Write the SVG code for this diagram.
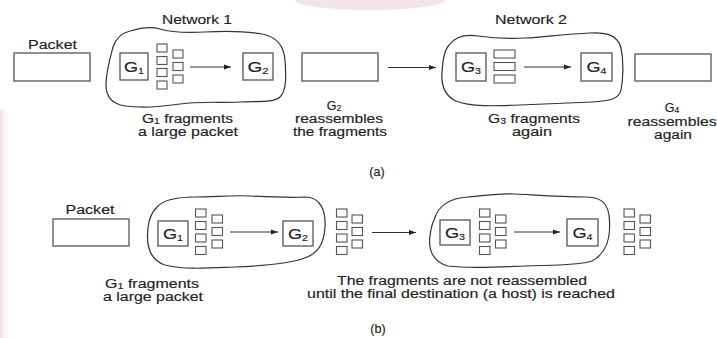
<svg xmlns="http://www.w3.org/2000/svg" width="717" height="338" viewBox="0 0 717 338">
<defs>
<style>
.t{font-family:"Liberation Sans",Arial,sans-serif;font-size:12.5px;fill:#222;text-anchor:middle;stroke:#222;stroke-width:0.15}
.g{font-family:"Liberation Sans",Arial,sans-serif;font-size:14.5px;fill:#222;text-anchor:middle;stroke:#222;stroke-width:0.15}
.sub{font-size:8.5px}
.box{fill:#fff;stroke:#555;stroke-width:1.3}
.sq{fill:#fff;stroke:#555;stroke-width:1.1}
.cloud{fill:none;stroke:#333;stroke-width:1.2}
.arr{stroke:#333;stroke-width:1;fill:none;marker-end:url(#ah)}
</style>
<marker id="ah" markerWidth="8" markerHeight="6" refX="7" refY="3" orient="auto" markerUnits="userSpaceOnUse">
<path d="M0,0.5 L7,3 L0,5.5 Z" fill="#222"/>
</marker>
<linearGradient id="pk" x1="0" y1="0" x2="1" y2="0">
<stop offset="0" stop-color="#f1dfe6"/>
<stop offset="1" stop-color="#fff" stop-opacity="0"/>
</linearGradient>
</defs>
<rect width="717" height="338" fill="#fff"/>
<ellipse cx="370" cy="0" rx="75" ry="10" fill="#f3e3ea"/>
<rect x="0" y="110" width="12" height="228" fill="url(#pk)"/>

<!-- ===== (a) ===== -->
<g id="a-packet-in">
<text class="t" x="52.5" y="49" textLength="49" lengthAdjust="spacingAndGlyphs">Packet</text>
<rect class="box" x="14" y="53" width="76" height="28"/>
</g>
<g id="a-network1">
<text class="t" x="197" y="24" textLength="70" lengthAdjust="spacingAndGlyphs">Network 1</text>
<path class="cloud" d="M113,47 C116,38 122,33 130,31 C140,28 150,26 160,29 C170,32 185,33 205,32 C225,31 245,31 262,34 C278,37 284,47 285,60 C286,75 287,90 280,97 C273,103 258,101 240,102 C220,103 200,101 180,104 C160,107 140,108 125,106 C112,104 106,96 106,85 C106,72 110,58 113,47 Z"/>
<text class="t" x="187.5" y="122.5" textLength="91" lengthAdjust="spacingAndGlyphs">G<tspan class="sub" dy="1.5">1</tspan><tspan dy="-1.5"> fragments</tspan></text>
<text class="t" x="188" y="136" textLength="100" lengthAdjust="spacingAndGlyphs">a large packet</text>
</g>
<g id="a-G1">
<rect class="box" x="120" y="53" width="28" height="27"/>
<text class="g" x="134" y="72" textLength="20" lengthAdjust="spacingAndGlyphs">G<tspan class="sub" dy="1.5">1</tspan></text>
</g>
<g id="a-frag1">
<rect class="sq" x="157" y="44" width="10" height="8"/>
<rect class="sq" x="157" y="56.5" width="10" height="8"/>
<rect class="sq" x="157" y="68.5" width="10" height="8"/>
<rect class="sq" x="157" y="81" width="10" height="8"/>
<rect class="sq" x="173" y="50" width="10" height="8"/>
<rect class="sq" x="173" y="62.5" width="10" height="8"/>
<rect class="sq" x="173" y="75" width="10" height="8"/>
</g>
<g id="a-G2">
<rect class="box" x="243" y="53" width="30" height="27"/>
<text class="g" x="258" y="72" textLength="21" lengthAdjust="spacingAndGlyphs">G<tspan class="sub" dy="1.5">2</tspan></text>
</g>
<g id="a-packet-mid">
<rect class="box" x="302" y="53" width="76" height="28"/>
<text class="t" x="334" y="109.5">G<tspan class="sub" dy="1.5">2</tspan></text>
<text class="t" x="339" y="123" textLength="88" lengthAdjust="spacingAndGlyphs">reassembles</text>
<text class="t" x="340" y="136" textLength="94" lengthAdjust="spacingAndGlyphs">the fragments</text>
</g>
<g id="a-network2">
<text class="t" x="531" y="24" textLength="72" lengthAdjust="spacingAndGlyphs">Network 2</text>
<path class="cloud" d="M449,45 C455,37 465,34 478,36 C492,38 505,39 525,38 C545,37 565,34 590,33 C608,32 618,36 621,48 C624,62 623,80 621,90 C619,99 610,101 592,102 C570,103 545,104 520,105 C495,106 470,107 456,101 C445,96 441,86 442,72 C443,60 444,51 449,45 Z"/>
<text class="t" x="534" y="122.5" textLength="92" lengthAdjust="spacingAndGlyphs">G<tspan class="sub" dy="1.5">3</tspan><tspan dy="-1.5"> fragments</tspan></text>
<text class="t" x="532" y="136" textLength="40" lengthAdjust="spacingAndGlyphs">again</text>
</g>
<g id="a-G3">
<rect class="box" x="456" y="53" width="30" height="28"/>
<text class="g" x="471" y="72" textLength="20" lengthAdjust="spacingAndGlyphs">G<tspan class="sub" dy="1.5">3</tspan></text>
</g>
<g id="a-frag3">
<rect class="sq" x="494" y="50" width="21" height="8"/>
<rect class="sq" x="494" y="62.5" width="21" height="8"/>
<rect class="sq" x="494" y="75" width="21" height="8"/>
</g>
<g id="a-G4">
<rect class="box" x="581" y="53" width="31" height="28"/>
<text class="g" x="596.5" y="72" textLength="20" lengthAdjust="spacingAndGlyphs">G<tspan class="sub" dy="1.5">4</tspan></text>
</g>
<g id="a-packet-out">
<rect class="box" x="635" y="54" width="76" height="27"/>
<text class="t" x="672" y="111.5">G<tspan class="sub" dy="1.5">4</tspan></text>
<text class="t" x="672" y="126" textLength="89" lengthAdjust="spacingAndGlyphs">reassembles</text>
<text class="t" x="673" y="139" textLength="38" lengthAdjust="spacingAndGlyphs">again</text>
</g>
<text class="t" x="377" y="176">(a)</text>

<!-- ===== (b) ===== -->
<g id="b-packet-in">
<text class="t" x="90" y="214" textLength="49" lengthAdjust="spacingAndGlyphs">Packet</text>
<rect class="box" x="53" y="219" width="76" height="27"/>
</g>
<g id="b-network1">
<path class="cloud" d="M157,207 C164,199 178,197 195,197 C215,197 230,195 250,196 C270,197 290,198 305,197 C320,197 326,210 325,227 C324,243 319,254 302,259 C285,264 260,266 235,267 C210,268 185,270 165,265 C150,260 146,245 148,228 C149,218 152,212 157,207 Z"/>
<text class="t" x="152" y="287.5" textLength="94" lengthAdjust="spacingAndGlyphs">G<tspan class="sub" dy="1.5">1</tspan><tspan dy="-1.5"> fragments</tspan></text>
<text class="t" x="153" y="301" textLength="100" lengthAdjust="spacingAndGlyphs">a large packet</text>
</g>
<g id="b-G1">
<rect class="box" x="158" y="221" width="30" height="25"/>
<text class="g" x="173" y="239" textLength="20" lengthAdjust="spacingAndGlyphs">G<tspan class="sub" dy="1.5">1</tspan></text>
</g>
<g id="b-frag1">
<rect class="sq" x="195.5" y="209" width="10.5" height="8"/>
<rect class="sq" x="195.5" y="221.5" width="10.5" height="8"/>
<rect class="sq" x="195.5" y="234" width="10.5" height="8"/>
<rect class="sq" x="195.5" y="246.5" width="10.5" height="8"/>
<rect class="sq" x="212" y="215" width="10.5" height="8"/>
<rect class="sq" x="212" y="227.5" width="10.5" height="8"/>
<rect class="sq" x="212" y="240" width="10.5" height="8"/>
</g>
<g id="b-G2">
<rect class="box" x="283" y="221" width="30" height="25"/>
<text class="g" x="298" y="239" textLength="20" lengthAdjust="spacingAndGlyphs">G<tspan class="sub" dy="1.5">2</tspan></text>
</g>
<g id="b-frag2">
<rect class="sq" x="336.5" y="209" width="10.5" height="8"/>
<rect class="sq" x="336.5" y="221.5" width="10.5" height="8"/>
<rect class="sq" x="336.5" y="234" width="10.5" height="8"/>
<rect class="sq" x="336.5" y="246.5" width="10.5" height="8"/>
<rect class="sq" x="352" y="215" width="10.5" height="8"/>
<rect class="sq" x="352" y="227.5" width="10.5" height="8"/>
<rect class="sq" x="352" y="240" width="10.5" height="8"/>
</g>
<g id="b-network2">
<path class="cloud" d="M434,220 C438,206 450,198 468,197 C485,196 495,193 515,194 C535,195 560,197 585,197 C600,197 607,202 609,215 C611,232 609,252 592,261 C575,266 550,265 525,266 C500,267 470,269 448,266 C433,262 428,250 430,236 C431,228 432,224 434,220 Z"/>
</g>
<g id="b-G3">
<rect class="box" x="440" y="220" width="30" height="25"/>
<text class="g" x="455" y="238" textLength="20" lengthAdjust="spacingAndGlyphs">G<tspan class="sub" dy="1.5">3</tspan></text>
</g>
<g id="b-frag3">
<rect class="sq" x="479.5" y="209" width="10.5" height="8"/>
<rect class="sq" x="479.5" y="221.5" width="10.5" height="8"/>
<rect class="sq" x="479.5" y="234" width="10.5" height="8"/>
<rect class="sq" x="479.5" y="246.5" width="10.5" height="8"/>
<rect class="sq" x="495.5" y="215" width="10.5" height="8"/>
<rect class="sq" x="495.5" y="227.5" width="10.5" height="8"/>
<rect class="sq" x="495.5" y="240" width="10.5" height="8"/>
</g>
<g id="b-G4">
<rect class="box" x="567" y="219" width="31" height="27"/>
<text class="g" x="582.5" y="238" textLength="20" lengthAdjust="spacingAndGlyphs">G<tspan class="sub" dy="1.5">4</tspan></text>
</g>
<g id="b-frag4">
<rect class="sq" x="624" y="209" width="10.5" height="8"/>
<rect class="sq" x="624" y="221.5" width="10.5" height="8"/>
<rect class="sq" x="624" y="234" width="10.5" height="8"/>
<rect class="sq" x="624" y="246.5" width="10.5" height="8"/>
<rect class="sq" x="640" y="215" width="10.5" height="8"/>
<rect class="sq" x="640" y="227.5" width="10.5" height="8"/>
<rect class="sq" x="640" y="240" width="10.5" height="8"/>
</g>
<g id="b-note">
<text class="t" x="462" y="285" textLength="250" lengthAdjust="spacingAndGlyphs">The fragments are not reassembled</text>
<text class="t" x="461" y="298" textLength="308" lengthAdjust="spacingAndGlyphs">until the final destination (a host) is reached</text>
</g>
<text class="t" x="378" y="333">(b)</text>

<g id="connectors">
<line class="arr" x1="190" y1="67" x2="231" y2="67"/>
<line class="arr" x1="388" y1="67.5" x2="436" y2="67.5"/>
<line class="arr" x1="524" y1="67" x2="571" y2="67"/>
<line class="arr" x1="230" y1="232" x2="278" y2="232"/>
<line class="arr" x1="372" y1="232.5" x2="416" y2="232.5"/>
<line class="arr" x1="514" y1="232" x2="560" y2="232"/>
</g>
</svg>
